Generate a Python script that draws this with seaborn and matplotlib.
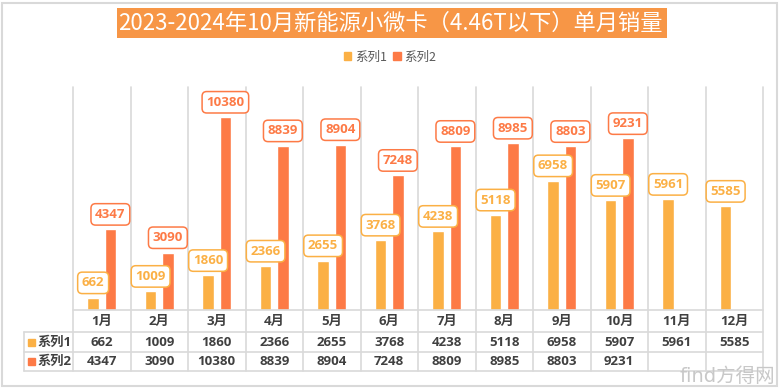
import pandas as pd
import seaborn as sns
import matplotlib.pyplot as plt
from matplotlib.lines import Line2D
from matplotlib.patches import Rectangle
from matplotlib.transforms import blended_transform_factory

# --- data ---
months = ['1月', '2月', '3月', '4月', '5月', '6月', '7月', '8月', '9月', '10月', '11月', '12月']
series_names = ['系列1', '系列2']
sales_2023 = [662, 1009, 1860, 2366, 2655, 3768, 4238, 5118, 6958, 5907, 5961, 5585]
sales_2024 = [4347, 3090, 10380, 8839, 8904, 7248, 8809, 8985, 8803, 9231, None, None]
title = '2023-2024年10月新能源小微卡（4.46T以下）单月销量'

colors = ['#FBB045', '#FD7A46']
grid_col = '#D9D9D9'
text_col = '#404040'
num_font = ['Open Sans', 'Noto Sans CJK SC', 'DejaVu Sans']

df = pd.DataFrame({
    'month': months * 2,
    'sales': sales_2023 + sales_2024,
    'series': [series_names[0]] * 12 + [series_names[1]] * 12,
}).dropna()

W, H = 780, 389
def fx(x):
    return x / W
def fy(y):
    return 1 - y / H

sns.set_theme(style='white')
plt.rcParams['font.family'] = ['Noto Sans CJK SC', 'DejaVu Sans']

fig = plt.figure(figsize=(7.8, 3.89), dpi=100)
ax = fig.add_axes([fx(73), fy(310), fx(763) - fx(73), (310 - 87) / H])

sns.barplot(data=df, x='month', y='sales', hue='series', order=months,
            hue_order=series_names, palette=colors, width=0.6, gap=0.333,
            errorbar=None, saturation=1, ax=ax)
ax.set_xlim(-0.5, 11.5)
ax.set_ylim(0, 12000)
ax.set_xlabel('')
ax.set_ylabel('')
ax.set_xticks([])
ax.set_yticks([])
for s in ax.spines.values():
    s.set_visible(False)

# value labels in rounded boxes
for cont, col in zip(ax.containers, colors):
    ax.bar_label(cont, fmt='%d', padding=6, color=col, fontsize=9.5,
                 fontweight='bold', family=num_font,
                 bbox=dict(boxstyle='round,pad=0.32,rounding_size=0.35',
                           fc='white', ec=col, lw=1.1))

# legend
ax.legend_.remove()
handles = [Rectangle((0, 0), 1, 1, color=c) for c in colors]
fig.legend(handles, series_names, loc='center', bbox_to_anchor=(0.5, fy(57)),
           ncol=2, frameon=False, fontsize=9, handlelength=0.6, handleheight=0.6,
           handletextpad=0.3, columnspacing=0.5, labelcolor='#595959')

# data table under the plot
tr = blended_transform_factory(ax.transData, fig.transFigure)
for i in range(13):
    ax.add_line(Line2D([i - 0.5, i - 0.5], [fy(87), fy(371)], transform=tr,
                       color=grid_col, lw=1.2, clip_on=False))
ax.add_line(Line2D([-0.5, 11.5], [fy(310), fy(310)], transform=tr,
                   color=grid_col, lw=1.2, clip_on=False))
for y in [332, 352, 371]:
    fig.add_artist(Line2D([fx(24), fx(763)], [fy(y), fy(y)], color=grid_col, lw=1.2))
fig.add_artist(Line2D([fx(24), fx(24)], [fy(332), fy(371)], color=grid_col, lw=1.2))

row_y = [342, 361.5]
for i, m in enumerate(months):
    ax.text(i, fy(321), m, transform=tr, ha='center', va='center',
            fontsize=9.5, fontweight='bold', color=text_col, family=num_font)
for vals, y in zip([sales_2023, sales_2024], row_y):
    for i, v in enumerate(vals):
        if v is None:
            continue
        ax.text(i, fy(y), f'{v}', transform=tr, ha='center', va='center',
                fontsize=9.5, fontweight='bold', color=text_col, family=num_font)
for name, col, y in zip(series_names, colors, row_y):
    fig.add_artist(Rectangle((fx(28), fy(y) - 3.5 / H), 7 / W, 7 / H, color=col))
    fig.text(fx(37), fy(y), name, ha='left', va='center', fontsize=9.5,
             fontweight='bold', color=text_col, family=num_font)

# title banner
fig.add_artist(Rectangle((fx(117), fy(38)), (667 - 117) / W, 30 / H,
                         color='#F79646', lw=0))
fig.text(0.5, fy(23), title, ha='center', va='center', fontsize=16,
         color='white', family=['Noto Sans CJK SC', 'DejaVu Sans'])

# outer frame and watermark
fig.add_artist(Rectangle((fx(2), fy(386)), fx(775), 383 / H, fill=False,
                         ec=grid_col, lw=1.5))
fig.text(fx(775), fy(377), 'find方得网', ha='right', va='center', fontsize=14,
         color='#C8C8C8', family=['DejaVu Sans', 'Noto Sans CJK SC'])

fig.savefig('out.png', dpi=100)
